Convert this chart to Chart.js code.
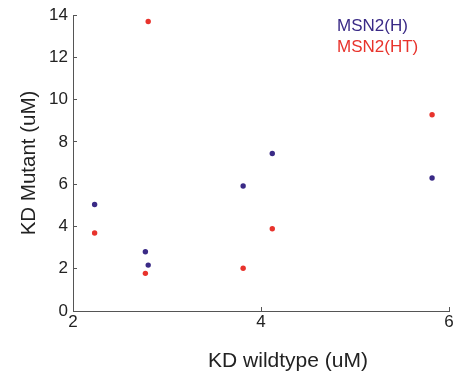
<!DOCTYPE html>
<html>
<head>
<meta charset="utf-8">
<script src="https://cdn.jsdelivr.net/npm/chart.js@4/dist/chart.umd.min.js"></script>
<style>
html,body{margin:0;padding:0;background:#fff;}
#wrap{width:460px;height:377px;}
</style>
</head>
<body>
<div id="wrap"><canvas id="c" width="460" height="377"></canvas></div>
<script>
const seriesNames = ["MSN2(H)", "MSN2(HT)"];
const wildtypeKD = [2.23, 2.77, 2.80, 3.81, 4.12, 5.82];
const mutantH  = [5.04, 2.80, 2.17, 5.91, 7.45, 6.29];
const wildtypeKD_HT = [2.23, 2.77, 2.80, 3.81, 4.12, 5.82];
const mutantHT = [3.69, 1.78, 13.69, 2.02, 3.89, 9.28];
const xTicks = [2, 4, 6];
const yTicks = [0, 2, 4, 6, 8, 10, 12, 14];
const xTitle = "KD wildtype (uM)";
const yTitle = "KD Mutant (uM)";

const colors = ["#3a2a86", "#e8332c"];
const axisColor = "#555555";
const textColor = "#222222";
const FONT = "'Liberation Sans', Arial, Helvetica, sans-serif";

function pts(xs, ys){ return xs.map((x,i)=>({x:x, y:ys[i]})); }

const textLegend = {
  id: 'textLegend',
  afterDraw(chart){
    const ctx = chart.ctx, a = chart.chartArea;
    ctx.save();
    ctx.font = "17px " + FONT;
    ctx.textAlign = 'left';
    ctx.textBaseline = 'middle';
    chart.data.datasets.forEach((ds, i) => {
      ctx.fillStyle = ds.backgroundColor;
      ctx.fillText(ds.label, a.right - 112, a.top + 11 + i * 21);
    });
    // x-axis title (offset to the right, as in the original figure)
    ctx.fillStyle = textColor;
    ctx.font = "21px " + FONT;
    ctx.textAlign = 'center';
    ctx.fillText(xTitle, (a.left + a.right) / 2 + 27, chart.height - 16);
    ctx.restore();
  }
};

new Chart(document.getElementById('c'), {
  type: 'scatter',
  data: {
    datasets: [
      { label: seriesNames[0], data: pts(wildtypeKD, mutantH), backgroundColor: colors[0], borderColor: colors[0], pointRadius: 2.7, borderWidth: 0 },
      { label: seriesNames[1], data: pts(wildtypeKD_HT, mutantHT), backgroundColor: colors[1], borderColor: colors[1], pointRadius: 2.7, borderWidth: 0 }
    ]
  },
  options: {
    responsive: false,
    animation: false,
    devicePixelRatio: 1,
    layout: { padding: { left: 0, right: 11, top: 15, bottom: 0 } },
    plugins: { legend: { display: false }, tooltip: { enabled: false } },
    scales: {
      x: {
        type: 'linear', min: 2, max: 6,
        afterBuildTicks(s){ s.ticks = xTicks.map(v => ({value: v})); },
        afterFit(s){ s.height = 66; s.paddingLeft = 0; s.paddingRight = 0; },
        ticks: { color: textColor, font: { family: FONT, size: 17 }, padding: 5, maxRotation: 0 },
        grid: { drawOnChartArea: false, drawTicks: true, tickLength: -4, color: axisColor, lineWidth: 1 },
        border: { display: true, color: axisColor, width: 1 },
        title: { display: false, text: xTitle }
      },
      y: {
        type: 'linear', min: 0, max: 14,
        afterBuildTicks(s){ s.ticks = yTicks.map(v => ({value: v})); },
        afterFit(s){ s.width = 73; s.paddingTop = 0; s.paddingBottom = 0; },
        ticks: { color: textColor, font: { family: FONT, size: 17 }, padding: 9 },
        grid: { drawOnChartArea: false, drawTicks: true, tickLength: -4, color: axisColor, lineWidth: 1 },
        border: { display: true, color: axisColor, width: 1 },
        title: { display: true, text: yTitle, color: textColor, font: { family: FONT, size: 20.5 }, padding: { top: 17, bottom: 0 } }
      }
    }
  },
  plugins: [textLegend]
});
</script>
</body>
</html>
